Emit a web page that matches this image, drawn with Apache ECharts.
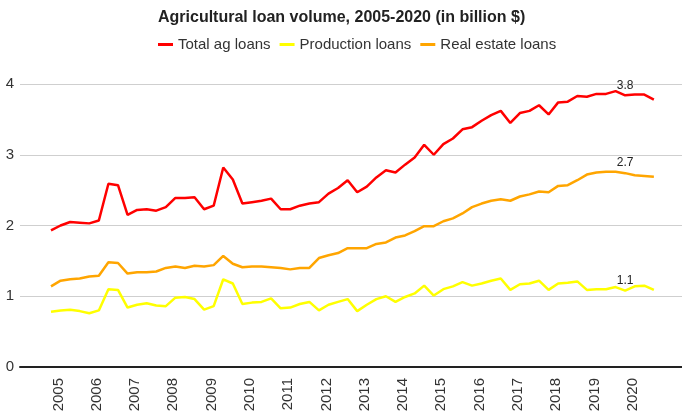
<!DOCTYPE html>
<html>
<head>
<meta charset="utf-8">
<script src="https://cdn.jsdelivr.net/npm/echarts@6/dist/echarts.min.js"></script>
<style>
  html, body { margin: 0; padding: 0; background: #fff; }
  #chart { width: 682px; height: 420px; }
</style>
</head>
<body>
<div id="chart"></div>
<script>
// quarterly points, 2005 Q1 .. 2020 Q4 (values in billion $)
var yearLabels = ['2005','2006','2007','2008','2009','2010','2011','2012',
  '2013','2014','2015','2016','2017','2018','2019','2020']

var totalLoans = [
  1.93, 2.00, 2.05, 2.04, 2.03, 2.07, 2.59, 2.57, 2.15, 2.22, 2.23, 2.21,
  2.26, 2.39, 2.39, 2.40, 2.23, 2.28, 2.82, 2.65, 2.31, 2.33, 2.35, 2.38,
  2.23, 2.23, 2.28, 2.31, 2.33, 2.45, 2.53, 2.64, 2.47, 2.55, 2.68, 2.78,
  2.75, 2.86, 2.96, 3.14, 3.00, 3.15, 3.23, 3.36, 3.39, 3.48, 3.56, 3.62,
  3.45, 3.59, 3.62, 3.70, 3.57, 3.74, 3.75, 3.83, 3.82, 3.86, 3.86, 3.90,
  3.84, 3.85, 3.85, 3.78
]
var productionLoans = [
  0.78, 0.80, 0.81, 0.79, 0.76, 0.80, 1.10, 1.09, 0.84, 0.88, 0.90, 0.87,
  0.86, 0.98, 0.99, 0.96, 0.81, 0.86, 1.24, 1.18, 0.89, 0.91, 0.92, 0.97,
  0.83, 0.84, 0.89, 0.92, 0.80, 0.88, 0.92, 0.96, 0.79, 0.88, 0.96, 1.00,
  0.92, 0.99, 1.04, 1.15, 1.01, 1.10, 1.14, 1.20, 1.15, 1.18, 1.22, 1.25,
  1.09, 1.17, 1.18, 1.22, 1.09, 1.18, 1.19, 1.21, 1.09, 1.10, 1.10, 1.13,
  1.08, 1.14, 1.15, 1.09
]
var realEstateLoans = [
  1.14, 1.22, 1.24, 1.25, 1.28, 1.29, 1.48, 1.47, 1.32, 1.34, 1.34, 1.35,
  1.40, 1.42, 1.40, 1.43, 1.42, 1.44, 1.57, 1.46, 1.41, 1.42, 1.42, 1.41,
  1.40, 1.38, 1.40, 1.40, 1.54, 1.58, 1.61, 1.68, 1.68, 1.68, 1.74, 1.76,
  1.83, 1.86, 1.92, 1.99, 1.99, 2.06, 2.10, 2.17, 2.26, 2.31, 2.35, 2.37,
  2.35, 2.41, 2.44, 2.48, 2.47, 2.56, 2.57, 2.64, 2.72, 2.75, 2.76, 2.76,
  2.74, 2.71, 2.70, 2.69
]
var seriesNames = ['Total ag loans', 'Production loans', 'Real estate loans']

var labelIndex = 60   // the point that carries a value label

function toPoints(arr) {
  return arr.map(function (v, i) {
    var item = { value: [i, v] }
    if (i === labelIndex) {
      item.label = { show: true }
    }
    return item
  })
}

function lineSeries(name, arr, color) {
  return {
    name: name,
    type: 'line',
    data: toPoints(arr),
    symbol: 'circle',
    symbolSize: 0,
    showSymbol: true,
    color: color,
    lineStyle: { width: 2.5, color: color },
    label: {
      show: false,
      position: 'top',
      distance: 4,
      color: '#222',
      fontSize: 12,
      fontFamily: 'Liberation Sans',
      formatter: function (p) { return p.value[1].toFixed(1) }
    },
    emphasis: { disabled: true },
    z: 3
  }
}

var chart = echarts.init(document.getElementById('chart'))
chart.setOption({
  animation: false,
  backgroundColor: '#fff',
  textStyle: { fontFamily: 'Liberation Sans' },
  title: {
    text: 'Agricultural loan volume, 2005-2020 (in billion $)',
    left: 153,
    top: 5,
    textStyle: {
      color: '#222',
      fontSize: 16,
      fontWeight: 'bold',
      fontFamily: 'Liberation Sans'
    }
  },
  legend: {
    left: 153,
    top: 32,
    icon: 'rect',
    itemWidth: 15,
    itemHeight: 3,
    itemGap: 9,
    textStyle: { color: '#333', fontSize: 15, fontFamily: 'Liberation Sans' },
    data: seriesNames
  },
  grid: {
    left: 20,
    right: 0,
    top: 84,
    bottom: 53
  },
  xAxis: {
    type: 'value',
    min: -3.24,
    max: 65.94,
    splitLine: { show: false },
    axisTick: { show: false },
    axisLine: { show: true, onZero: true, lineStyle: { color: '#222', width: 2 } },
    axisLabel: {
      customValues: yearLabels.map(function (y, k) { return k * 4 }),
      rotate: 90,
      verticalAlign: 'top',
      margin: 11,
      color: '#333',
      fontSize: 15,
      fontFamily: 'Liberation Sans',
      formatter: function (v) { return yearLabels[Math.round(v / 4)] || '' }
    }
  },
  yAxis: {
    type: 'value',
    min: 0,
    max: 4,
    interval: 1,
    axisLine: { show: false },
    axisTick: { show: false },
    splitLine: { show: true, lineStyle: { color: '#cfcfcf', width: 1 } },
    axisLabel: { color: '#333', fontSize: 15, margin: 6, fontFamily: 'Liberation Sans' }
  },
  series: [
    lineSeries(seriesNames[0], totalLoans, '#ff0000'),
    lineSeries(seriesNames[1], productionLoans, '#ffff00'),
    lineSeries(seriesNames[2], realEstateLoans, '#ffa500')
  ]
})
</script>
</body>
</html>
